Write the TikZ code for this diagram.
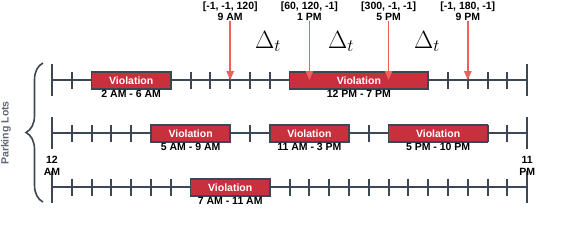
\documentclass[tikz,border=0pt]{standalone}
\usepackage{fontspec}
\setsansfont{Liberation Sans}
\usepackage{tikz}
\usetikzlibrary{arrows.meta,positioning,decorations.pathreplacing}
\definecolor{LotSlate}{HTML}{3D4753}
\definecolor{LotRed}{HTML}{C9303E}
\definecolor{LotSalmon}{HTML}{EE5F5F}
\definecolor{LotGray}{HTML}{5F6873}

\begin{document}
\begin{tikzpicture}[x=1pt,y=-1pt,font=\sffamily\bfseries\fontsize{10.5}{11.5}\selectfont,
  axis/.style={draw=LotSlate,line width=2pt},
  viol/.style={draw=LotSlate,line width=1.5pt,fill=LotRed,text=white,minimum height=17pt,inner sep=0pt},
  span/.style={inner sep=0pt,text=black},
  alabel/.style={anchor=south,align=center,inner sep=0pt},
  hit/.style={draw=LotSalmon,line width=1.6pt,-{Triangle[length=9pt,width=7.5pt]}},
  dlt/.style={anchor=base,font=\fontsize{23}{23}\selectfont}]
\useasboundingbox (0,0) rectangle (564,242);
\coordinate (r1a) at (52,80);
\coordinate (r1b) at (527.2,80);
\coordinate (r2a) at (52,133);
\coordinate (r2b) at (527.2,133);
\coordinate (r3a) at (52,187);
\coordinate (r3b) at (527.2,187);
\draw[axis] (r1a) -- (r1b);
\draw[axis] (r2a) -- (r2b);
\draw[axis] (r3a) -- (r3b);
\foreach \r in {80,133,187} {
  \foreach \h in {1,...,23} \draw[axis] ({52+19.8*\h},\r-8.5) -- ++(0,17);
  \draw[axis] (52,\r-16) -- ++(0,32);
  \draw[axis] (527.2,\r-16) -- ++(0,32);
}
\node[viol,minimum width=79.2pt] (v1) at ({52+19.8*4},80.5) {Violation};
\node[span,below=0pt of v1] (v1t) {2 AM - 6 AM};
\node[viol,minimum width=138.6pt] (v2) at ({52+19.8*15.5},80.5) {Violation};
\node[span,below=0pt of v2] (v2t) {12 PM - 7 PM};
\node[viol,minimum width=79.2pt] (v3) at ({52+19.8*7},133.5) {Violation};
\node[span,below=0pt of v3] (v3t) {5 AM - 9 AM};
\node[viol,minimum width=79.2pt] (v4) at ({52+19.8*13},133.5) {Violation};
\node[span,below=0pt of v4] (v4t) {11 AM - 3 PM};
\node[viol,minimum width=99pt] (v5) at ({52+19.8*19.5},133.5) {Violation};
\node[span,below=0pt of v5] (v5t) {5 PM - 10 PM};
\node[viol,minimum width=79.2pt] (v6) at ({52+19.8*9},187.5) {Violation};
\node[span,below=0pt of v6] (v6t) {7 AM - 11 AM};
\node[alabel] (a1) at ({52+19.8*9},21) {[-1, -1, 120]\\9 AM};
\node[alabel] (a2) at ({52+19.8*13},21) {[60, 120, -1]\\1 PM};
\node[alabel] (a3) at ({52+19.8*17},21) {[300, -1, -1]\\5 PM};
\node[alabel] (a4) at ({52+19.8*21},21) {[-1, 180, -1]\\9 PM};
\coordinate (p1) at ({52+19.8*9},80);
\coordinate (p2) at ({52+19.8*13},80);
\coordinate (p3) at ({52+19.8*17},80);
\coordinate (p4) at ({52+19.8*21},80);
\draw[hit] (a1) -- (p1);
\draw[hit] (a2) -- (p2);
\draw[hit] (a3) -- (p3);
\draw[hit] (a4) -- (p4);
\node[dlt] (d1) at (268,48) {$\Delta_t$};
\node[dlt] (d2) at (341,48) {$\Delta_t$};
\node[dlt] (d3) at (427,48) {$\Delta_t$};
\node[align=center,inner sep=0pt] (start) at (52,166) {12\\AM};
\node[align=center,inner sep=0pt] (end) at (527.2,166) {11\\PM};
\coordinate (bl) at (43,202);
\coordinate (bt) at (43,63);
\draw[draw=LotSlate,line width=1.6pt,decorate,decoration={brace,amplitude=17pt}] (bl) -- (bt);
\node[rotate=90,text=LotGray,inner sep=0pt] (lots) at (6,133) {Parking Lots};
\end{tikzpicture}
\end{document}
